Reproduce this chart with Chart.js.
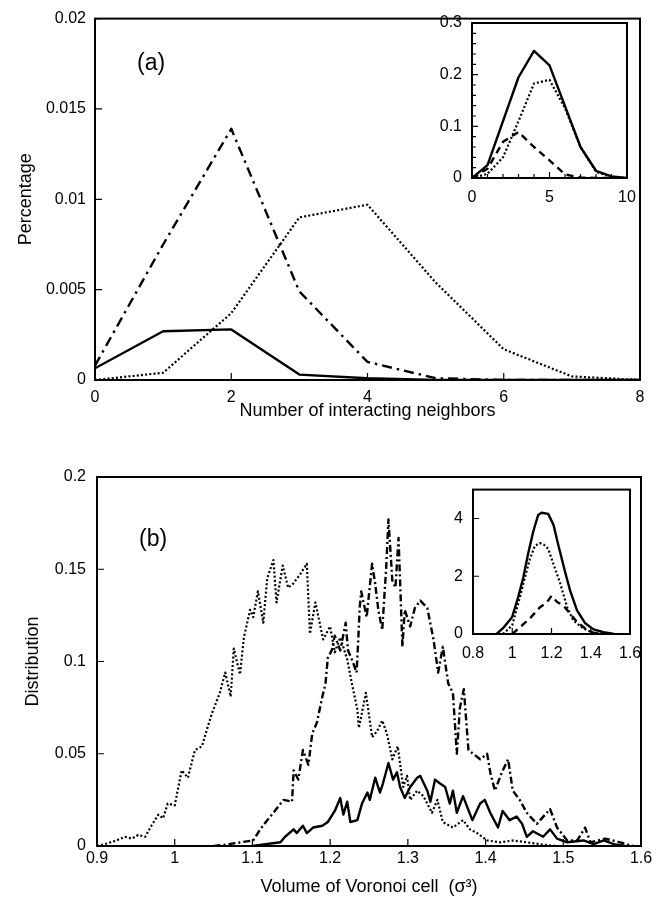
<!DOCTYPE html>
<html>
<head>
<meta charset="utf-8">
<script src="https://cdn.jsdelivr.net/npm/chart.js@4.4.0/dist/chart.umd.min.js"></script>
<style>
    body { margin: 0; background: #fff; }
    #page { position: relative; width: 662px; height: 900px; overflow: hidden; background: #fff; }
    canvas { position: absolute; }
    .tag { position: absolute; font-family: "Liberation Sans", Arial, sans-serif; font-size: 23px; color: #000; }
</style>
</head>
<body>
<div id="page">
    <canvas id="chartA" width="662" height="430" style="left:0;top:0"></canvas>
    <canvas id="insetA" width="262" height="220" style="left:400px;top:0"></canvas>
    <canvas id="chartB" width="662" height="460" style="left:0;top:440px"></canvas>
    <canvas id="insetB" width="262" height="200" style="left:400px;top:470px"></canvas>
    <div class="tag" style="left:137px;top:49px">(a)</div>
    <div class="tag" style="left:139px;top:525px">(b)</div>
</div>
<script>
// ---- panel (a): number of interacting neighbors ----
const neighbors = [0, 1, 2, 3, 4, 5, 6, 7, 8];
const aSolid   = [0.00065, 0.0027, 0.0028, 0.0003, 0.0001, 0, 0, 0, 0];
const aDashDot = [0.0008, 0.0075, 0.0139, 0.0049, 0.001, 0.0001, 0, 0, 0];
const aDotted  = [0, 0.0004, 0.0037, 0.009, 0.0097, 0.0054, 0.0017, 0.0002, 0];

// inset of (a)
const insetANeighbors = [0, 1, 2, 3, 4, 5, 6, 7, 8, 9, 10];
const insASolid  = [0, 0.025, 0.11, 0.195, 0.246, 0.218, 0.139, 0.06, 0.014, 0.003, 0];
const insADotted = [0, 0.008, 0.04, 0.11, 0.183, 0.19, 0.135, 0.06, 0.012, 0.002, 0];
const insADashed = [0, 0.018, 0.07, 0.089, 0.06, 0.034, 0.007, 0.001, 0, 0, 0];

// ---- panel (b): volume of Voronoi cell ----
const bDottedX = [0.900, 0.910, 0.925, 0.936, 0.945, 0.953, 0.962, 0.970, 0.979, 0.985, 0.991, 1.000,
    1.009, 1.017, 1.026, 1.035, 1.042, 1.048, 1.058, 1.065, 1.072, 1.076, 1.084, 1.089, 1.097, 1.101,
    1.107, 1.114, 1.119, 1.127, 1.131, 1.139, 1.146, 1.152, 1.161, 1.170, 1.174, 1.181, 1.191, 1.200,
    1.206, 1.213, 1.222, 1.228, 1.235, 1.237, 1.246, 1.254, 1.260, 1.267, 1.273, 1.280, 1.287, 1.294,
    1.299, 1.303, 1.312, 1.320, 1.331, 1.338, 1.345, 1.358, 1.371, 1.380, 1.389, 1.402, 1.419, 1.435,
    1.453, 1.470, 1.490];
const bDottedY = [0.000, 0.001, 0.003, 0.005, 0.004, 0.006, 0.005, 0.011, 0.017, 0.015, 0.023, 0.022,
    0.041, 0.037, 0.052, 0.054, 0.064, 0.072, 0.083, 0.094, 0.081, 0.107, 0.093, 0.113, 0.128, 0.124,
    0.138, 0.121, 0.145, 0.155, 0.132, 0.152, 0.140, 0.142, 0.147, 0.153, 0.115, 0.132, 0.112, 0.119,
    0.105, 0.113, 0.101, 0.088, 0.074, 0.064, 0.083, 0.059, 0.062, 0.068, 0.061, 0.047, 0.054, 0.032,
    0.038, 0.025, 0.030, 0.027, 0.018, 0.025, 0.013, 0.010, 0.014, 0.009, 0.007, 0.003, 0.002, 0.003,
    0.002, 0.001, 0.000];

const bDashDotX = [1.050, 1.070, 1.085, 1.101, 1.110, 1.119, 1.127, 1.140, 1.151, 1.153, 1.159, 1.165,
    1.172, 1.177, 1.183, 1.190, 1.194, 1.197, 1.202, 1.206, 1.213, 1.220, 1.223, 1.229, 1.234, 1.236,
    1.238, 1.240, 1.247, 1.254, 1.258, 1.262, 1.267, 1.272, 1.275, 1.280, 1.284, 1.288, 1.293, 1.296,
    1.303, 1.309, 1.316, 1.325, 1.333, 1.339, 1.345, 1.352, 1.358, 1.363, 1.367, 1.372, 1.378, 1.384,
    1.393, 1.402, 1.406, 1.412, 1.421, 1.429, 1.435, 1.444, 1.453, 1.466, 1.483, 1.492, 1.505, 1.518,
    1.528, 1.535, 1.554, 1.573, 1.590];
const bDashDotY = [0.000, 0.001, 0.002, 0.003, 0.009, 0.014, 0.018, 0.025, 0.024, 0.041, 0.036, 0.052,
    0.044, 0.061, 0.067, 0.081, 0.088, 0.102, 0.106, 0.114, 0.106, 0.121, 0.106, 0.100, 0.094, 0.110,
    0.129, 0.138, 0.124, 0.153, 0.142, 0.128, 0.117, 0.150, 0.177, 0.144, 0.140, 0.167, 0.108, 0.128,
    0.119, 0.129, 0.133, 0.129, 0.112, 0.094, 0.108, 0.088, 0.083, 0.050, 0.075, 0.085, 0.052, 0.050,
    0.047, 0.050, 0.040, 0.030, 0.040, 0.047, 0.030, 0.025, 0.018, 0.012, 0.020, 0.010, 0.003, 0.003,
    0.010, 0.002, 0.004, 0.002, 0.000];

const bSolidX = [1.100, 1.136, 1.142, 1.153, 1.157, 1.165, 1.170, 1.178, 1.190, 1.197, 1.206, 1.213,
    1.217, 1.222, 1.226, 1.235, 1.241, 1.248, 1.251, 1.258, 1.264, 1.268, 1.275, 1.281, 1.286, 1.290,
    1.296, 1.303, 1.312, 1.316, 1.325, 1.329, 1.335, 1.341, 1.348, 1.354, 1.358, 1.363, 1.371, 1.383,
    1.393, 1.399, 1.406, 1.416, 1.422, 1.431, 1.440, 1.447, 1.453, 1.461, 1.474, 1.483, 1.492, 1.505,
    1.526, 1.539, 1.552, 1.565, 1.580];
const bSolidY = [0.000, 0.002, 0.005, 0.009, 0.007, 0.011, 0.007, 0.010, 0.011, 0.013, 0.019, 0.026,
    0.017, 0.024, 0.013, 0.014, 0.023, 0.029, 0.025, 0.037, 0.029, 0.034, 0.045, 0.036, 0.040, 0.032,
    0.026, 0.032, 0.037, 0.038, 0.030, 0.024, 0.036, 0.034, 0.032, 0.023, 0.030, 0.018, 0.027, 0.014,
    0.023, 0.025, 0.018, 0.010, 0.019, 0.014, 0.016, 0.012, 0.005, 0.008, 0.005, 0.009, 0.004, 0.002,
    0.003, 0.001, 0.003, 0.001, 0.000];

// inset of (b)
const insBSolidX = [0.92, 0.953, 0.999, 1.03, 1.056, 1.08, 1.107, 1.132, 1.15, 1.183, 1.21, 1.234, 1.268,
    1.295, 1.33, 1.372, 1.414, 1.465, 1.52];
const insBSolidY = [0, 0.2, 0.58, 1.27, 1.95, 2.75, 3.55, 4.12, 4.2, 4.16, 3.78, 3.1, 2.18, 1.5, 0.82,
    0.37, 0.16, 0.06, 0];
const insBDottedX = [0.953, 1.0, 1.04, 1.066, 1.09, 1.115, 1.14, 1.16, 1.183, 1.21, 1.245, 1.28, 1.31,
    1.36, 1.41, 1.46];
const insBDottedY = [0, 0.3, 1.3, 2.0, 2.6, 3.05, 3.15, 3.1, 2.95, 2.42, 1.74, 0.92, 0.48, 0.2, 0.05, 0];
const insBDashedX = [1.0, 1.04, 1.09, 1.14, 1.177, 1.2, 1.23, 1.26, 1.295, 1.33, 1.37, 1.41, 1.45];
const insBDashedY = [0, 0.24, 0.54, 0.92, 1.1, 1.32, 1.1, 0.99, 0.7, 0.42, 0.2, 0.05, 0];

Chart.defaults.font.family = '"Liberation Sans", Arial, sans-serif';
Chart.defaults.color = '#000';

const fmt = v => String(+Number(v).toFixed(4));

// box round the plot and ticks pointing inwards
const frameTicks = {
    id: 'frameTicks',
    afterDatasetsDraw(chart, args, opts) {
        const ctx = chart.ctx;
        const a = chart.chartArea;
        const sx = chart.scales.x, sy = chart.scales.y;
        ctx.save();
        ctx.strokeStyle = '#000';
        ctx.lineWidth = 1.2;
        ctx.beginPath();
        sx.ticks.forEach(t => {
            const px = sx.getPixelForValue(t.value);
            ctx.moveTo(px, a.bottom); ctx.lineTo(px, a.bottom - opts.major);
        });
        sy.ticks.forEach(t => {
            const py = sy.getPixelForValue(t.value);
            ctx.moveTo(a.left, py); ctx.lineTo(a.left + opts.major, py);
        });
        if (opts.minorX) {
            for (let v = sx.min; v <= sx.max + 1e-9; v += opts.minorX) {
                const px = sx.getPixelForValue(v);
                ctx.moveTo(px, a.bottom); ctx.lineTo(px, a.bottom - opts.minor);
            }
        }
        if (opts.minorY) {
            for (let v = sy.min; v <= sy.max + 1e-9; v += opts.minorY) {
                const py = sy.getPixelForValue(v);
                ctx.moveTo(a.left, py); ctx.lineTo(a.left + opts.minor, py);
            }
        }
        ctx.stroke();
        ctx.lineWidth = opts.frame;
        ctx.strokeRect(a.left, a.top, a.right - a.left, a.bottom - a.top);
        ctx.restore();
    }
};

const styles = {
    solid:   { borderWidth: 2.4, borderDash: [] },
    dotted:  { borderWidth: 2.2, borderDash: [2, 2.2] },
    dashDot: { borderWidth: 2.4, borderDash: [10, 5, 2.5, 5] },
    dashDotB:{ borderWidth: 2.4, borderDash: [7, 3, 2, 3] },
    dashed:  { borderWidth: 2.4, borderDash: [7, 5] }
};

function series(xs, ys, style) {
    return Object.assign({
        data: xs.map((x, i) => ({ x: x, y: ys[i] })),
        borderColor: '#000',
        pointRadius: 0,
        tension: 0,
        fill: false,
        borderJoinStyle: 'round'
    }, styles[style]);
}

function axis(min, max, step, size, pad, title, titlePad, fit) {
    const ax = {
        type: 'linear',
        min: min, max: max,
        border: { display: false },
        grid: { display: false, drawTicks: false },
        ticks: { stepSize: step, padding: pad, font: { size: size }, callback: fmt,
                 includeBounds: false, autoSkip: false, maxRotation: 0 },
        afterFit: fit
    };
    if (title) {
        ax.title = { display: true, text: title, font: { size: 18 }, color: '#000', padding: titlePad };
    }
    return ax;
}

function makeChart(id, datasets, xAxis, yAxis, padding, ticks) {
    return new Chart(document.getElementById(id).getContext('2d'), {
        type: 'line',
        data: { datasets: datasets },
        options: {
            responsive: false,
            devicePixelRatio: 1,
            animation: false,
            layout: { padding: padding },
            scales: { x: xAxis, y: yAxis },
            plugins: { legend: { display: false }, tooltip: { enabled: false }, frameTicks: ticks }
        },
        plugins: [frameTicks]
    });
}

// (a) main
makeChart('chartA', [
        series(neighbors, aSolid, 'solid'),
        series(neighbors, aDashDot, 'dashDot'),
        series(neighbors, aDotted, 'dotted')
    ],
    axis(0, 8, 2, 16, 8, 'Number of interacting neighbors', { top: 4, bottom: 8 }, s => { s.height = 50; }),
    axis(0, 0.02, 0.005, 16, 9, 'Percentage', { top: 15, bottom: 4 }, s => { s.width = 95; }),
    { top: 13, right: 22, left: 0, bottom: 0 },
    { major: 7, frame: 2 });

// (a) inset
makeChart('insetA', [
        series(insetANeighbors, insASolid, 'solid'),
        series(insetANeighbors, insADotted, 'dotted'),
        series(insetANeighbors, insADashed, 'dashed')
    ],
    axis(0, 10, 5, 16, 10, null, null, s => { s.height = 30; }),
    axis(0, 0.3, 0.1, 16, 10, null, null, s => { s.width = 72; }),
    { top: 23, right: 35, left: 0, bottom: 12 },
    { major: 6, minor: 4, minorX: 1, minorY: 0.02, frame: 2 });

// (b) main
makeChart('chartB', [
        series(bDottedX, bDottedY, 'dotted'),
        series(bDashDotX, bDashDotY, 'dashDotB'),
        series(bSolidX, bSolidY, 'solid')
    ],
    axis(0.9, 1.6, 0.1, 16, 3, 'Volume of Voronoi cell  (σ³)', { top: 4, bottom: 2 }, s => { s.height = 54; }),
    axis(0, 0.2, 0.05, 16, 11, 'Distribution', { top: 22, bottom: 4 }, s => { s.width = 97; }),
    { top: 37, right: 21, left: 0, bottom: 0 },
    { major: 7, frame: 2 });

// (b) inset
makeChart('insetB', [
        series(insBSolidX, insBSolidY, 'solid'),
        series(insBDottedX, insBDottedY, 'dotted'),
        series(insBDashedX, insBDashedY, 'dashed')
    ],
    axis(0.8, 1.6, 0.2, 16, 10, null, null, s => { s.height = 30; }),
    axis(0, 5, 2, 16, 10, null, null, s => { s.width = 73; }),
    { top: 17, right: 32, left: 0, bottom: 6 },
    { major: 6, frame: 2 });
</script>
</body>
</html>
